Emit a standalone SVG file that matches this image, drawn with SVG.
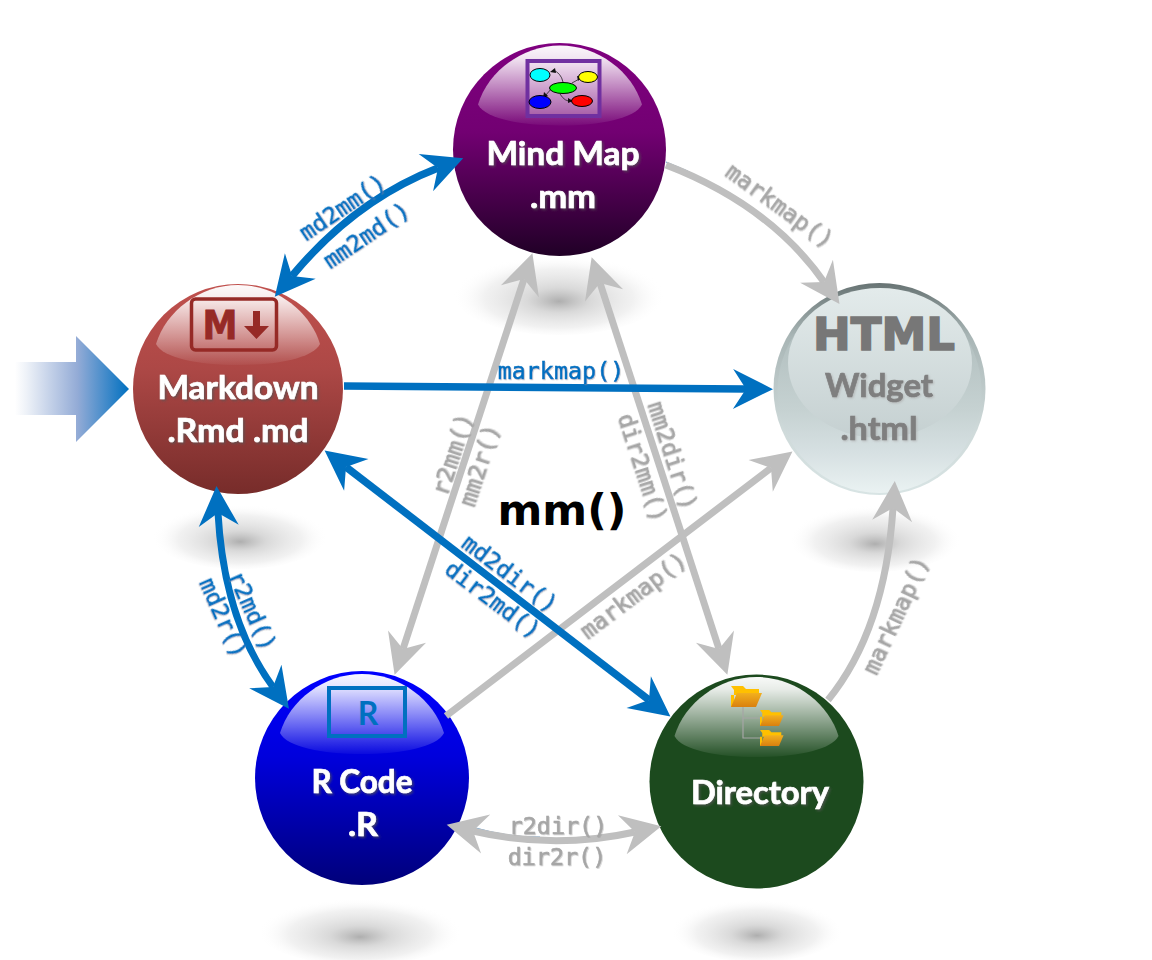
<svg xmlns="http://www.w3.org/2000/svg" width="1152" height="960" viewBox="0 0 1152 960">
<style>
.nt{font-family:"Lato","Liberation Sans",sans-serif;font-weight:700;font-size:33px;fill:#fff;stroke:#fff;stroke-width:.7;text-anchor:middle;filter:url(#ts)}
.wt{fill:#7F7F7F;stroke:#7F7F7F;filter:url(#ts2)}
.lb{font-family:"DejaVu Sans Mono","Liberation Mono",monospace;font-size:23.4px;text-anchor:middle;stroke-width:.55;filter:url(#ts3)}
.b{fill:#0070C0;stroke:#0070C0}.g{fill:#A6A6A6;stroke:#A6A6A6}
.cb{fill:none;stroke:#0070C0;stroke-width:7.5;marker-start:url(#ab);marker-end:url(#ab)}
.cg{fill:none;stroke:#BFBFBF;stroke-width:7;marker-start:url(#ag);marker-end:url(#ag)}
.one{marker-start:none}
.thin{fill:none;stroke:#5B9BD5;stroke-width:1}
.tree{fill:none;stroke:#A6A6A6;stroke-width:1.2}
</style>
<defs>
<marker id="ab" markerUnits="userSpaceOnUse" markerWidth="42" markerHeight="42" viewBox="0 0 42 42" refX="14" refY="21" orient="auto-start-reverse"><path d="M41,21 L1,1 L14,21 L1,41 Z" fill="#0070C0"/></marker>
<marker id="ag" markerUnits="userSpaceOnUse" markerWidth="42" markerHeight="42" viewBox="0 0 42 42" refX="14" refY="21" orient="auto-start-reverse"><path d="M41,21 L1,1 L14,21 L1,41 Z" fill="#BFBFBF"/></marker>
<filter id="ts" x="-20%" y="-30%" width="140%" height="170%"><feDropShadow dx="1.500" dy="1.500" stdDeviation="1.300" flood-color="#555" flood-opacity=".75"/></filter>
<filter id="ts2" x="-20%" y="-30%" width="140%" height="170%"><feDropShadow dx="1" dy="1" stdDeviation="1.200" flood-color="#aaa" flood-opacity=".7"/></filter>
<filter id="ts3" x="-20%" y="-40%" width="140%" height="180%"><feDropShadow dx=".8" dy="1" stdDeviation=".6" flood-color="#888" flood-opacity=".4"/></filter>
<radialGradient id="sh" cy=".55" fy=".6"><stop offset="0" stop-color="#a0a0a0" stop-opacity=".85"/><stop offset=".3" stop-color="#c0c0c0" stop-opacity=".6"/><stop offset=".7" stop-color="#dedede" stop-opacity=".42"/><stop offset="1" stop-color="#fff" stop-opacity="0"/></radialGradient>
<linearGradient id="gm" x1="0" y1="0" x2="0" y2="1"><stop offset="0" stop-color="#800080"/><stop offset=".42" stop-color="#720072"/><stop offset="1" stop-color="#200026"/></linearGradient>
<linearGradient id="gd" x1="0" y1="0" x2="0" y2="1"><stop offset="0" stop-color="#C0504D"/><stop offset=".4" stop-color="#AD4846"/><stop offset="1" stop-color="#772C2A"/></linearGradient>
<linearGradient id="gr" x1="0" y1="0" x2="0" y2="1"><stop offset="0" stop-color="#0000FF"/><stop offset=".4" stop-color="#0000DC"/><stop offset="1" stop-color="#00007A"/></linearGradient>
<linearGradient id="gw" x1="0" y1="0" x2="0" y2="1"><stop offset="0" stop-color="#687474"/><stop offset=".25" stop-color="#A8B5B5"/><stop offset=".7" stop-color="#CFDADA"/><stop offset="1" stop-color="#D8E4E4"/></linearGradient>
<linearGradient id="gw2" x1="0" y1="0" x2="0" y2="1"><stop offset="0" stop-color="#A5B3B3"/><stop offset=".6" stop-color="#C6D2D2"/><stop offset=".8" stop-color="#D6E0E2"/><stop offset="1" stop-color="#EAF2F2"/></linearGradient>
<linearGradient id="gw3" x1="0" y1="0" x2="0" y2="1"><stop offset="0" stop-color="#E3EBEB"/><stop offset="1" stop-color="#C5D0D1"/></linearGradient>
<linearGradient id="dm" x1="0" y1="0" x2="0" y2="1"><stop offset="0" stop-color="#fff" stop-opacity=".97"/><stop offset=".15" stop-color="#fff" stop-opacity=".9"/><stop offset="1" stop-color="#fff" stop-opacity=".04"/></linearGradient>
<linearGradient id="ar" x1="0" y1="0" x2="1" y2="0"><stop offset="0" stop-color="#fff"/><stop offset=".1" stop-color="#EEF2F8"/><stop offset=".55" stop-color="#93ABD6"/><stop offset="1" stop-color="#0070C0"/></linearGradient>
<linearGradient id="fo" x1="0" y1="0" x2="0" y2="1"><stop offset="0" stop-color="#F2B01E"/><stop offset="1" stop-color="#D9800F"/></linearGradient>
<path id="dome" d="M-82,-45 C-72,-78 -38,-104 0,-104 C38,-104 72,-78 82,-45 C75,-31 40,-24 0,-24 C-40,-24 -75,-31 -82,-45 Z" fill="url(#dm)"/>
<g id="folder"><path d="M0,0 H12 L15,3 H28 V9 H0 Z M0,0 V21 H3 V4 Z" fill="#FFC000"/><path d="M6,7 H31 L25,21 H0 Z" fill="url(#fo)"/></g>
</defs>

<g id="big-arrow"><path d="M15,362 H76 V336 L129,389 L76,442 V415 H15 Z" fill="url(#ar)"/></g>

<g id="node-mindmap">
<ellipse cx="559" cy="293" rx="106" ry="42" fill="url(#sh)"/>
<circle cx="559.500" cy="149.500" r="106.500" fill="url(#gm)"/>
<use href="#dome" x="560" y="149.500"/>
<rect x="527.500" y="61" width="72" height="55" fill="#fff" fill-opacity=".25" stroke="#7030A0" stroke-width="4"/>
<g stroke="#222" stroke-width=".8" fill="none"><path d="M553,70 Q561,73 563,82"/><path d="M572,83 L581,78"/><path d="M552,88 L545,96"/><path d="M560,94 Q565,102 571,101"/></g>
<path d="M550,72 L555,68 L556,73 Z M582,77 L577,76 L578,81 Z M543,98 L544,92 L548,96 Z M573,101 L568,98 L568,103 Z" fill="#111"/>
<g stroke="#000" stroke-width="1"><ellipse cx="540" cy="75" rx="10" ry="6.500" fill="#00FFFF"/><ellipse cx="588" cy="77" rx="9.500" ry="5.500" fill="#FFFF00"/><ellipse cx="563" cy="88" rx="13.500" ry="5.500" fill="#00FF00"/><ellipse cx="540" cy="102" rx="11" ry="6.500" fill="#0000FF"/><ellipse cx="582" cy="101" rx="10.500" ry="5.500" fill="#FF0000"/></g>
<text class="nt" x="563" y="165" textLength="153" lengthAdjust="spacingAndGlyphs">Mind Map</text>
<text class="nt" x="563" y="208" textLength="66" lengthAdjust="spacingAndGlyphs">.mm</text>
</g>

<g id="node-markdown">
<ellipse cx="240" cy="535" rx="88" ry="34" fill="url(#sh)"/>
<circle cx="238" cy="389" r="105" fill="url(#gd)"/>
<use href="#dome" x="238" y="389"/>
<rect x="191.500" y="299" width="85" height="51" rx="4" fill="none" stroke="#962A26" stroke-width="3.500"/>
<text x="220" y="339" font-family="'DejaVu Sans',sans-serif" font-weight="700" font-size="38.500" fill="#962A26" stroke="#962A26" stroke-width=".8" text-anchor="middle" textLength="35" lengthAdjust="spacingAndGlyphs">M</text>
<path d="M253,311 H260 V326 H269 L256.500,339 L244,326 H253 Z" fill="#962A26"/>
<text class="nt" x="238" y="399" textLength="161" lengthAdjust="spacingAndGlyphs">Markdown</text>
<text class="nt" x="238" y="442" textLength="141" lengthAdjust="spacingAndGlyphs">.Rmd .md</text>
</g>

<g id="node-widget">
<ellipse cx="875" cy="537" rx="86" ry="35" fill="url(#sh)"/>
<circle cx="879.500" cy="389" r="106" fill="url(#gw)"/>
<circle cx="879.500" cy="391" r="102" fill="url(#gw2)"/>
<ellipse cx="880" cy="363" rx="92" ry="75" fill="url(#gw3)"/>
<text x="884" y="350" font-family="'DejaVu Sans',sans-serif" font-weight="700" font-size="45px" fill="#777" stroke="#777" stroke-width="1.600" text-anchor="middle" textLength="142" lengthAdjust="spacingAndGlyphs">HTML</text>
<text class="nt wt" x="879" y="397" textLength="108" lengthAdjust="spacingAndGlyphs">Widget</text>
<text class="nt wt" x="879" y="440" textLength="77" lengthAdjust="spacingAndGlyphs">.html</text>
</g>

<g id="node-directory">
<ellipse cx="757" cy="929" rx="86" ry="33" fill="url(#sh)"/>
<circle cx="756.500" cy="781.500" r="107" fill="#1C4A1E"/>
<use href="#dome" x="756.500" y="781"/>
<path class="tree" d="M743,707 V738 H762 M743,718 H762"/>
<use href="#folder" x="731" y="686"/>
<use href="#folder" transform="translate(760,710) scale(.76)"/>
<use href="#folder" transform="translate(760,730) scale(.76)"/>
<text class="nt" x="760" y="804" textLength="138" lengthAdjust="spacingAndGlyphs">Directory</text>
</g>

<g id="node-rcode">
<ellipse cx="360" cy="930" rx="102" ry="35" fill="url(#sh)"/>
<circle cx="362" cy="778" r="107" fill="url(#gr)"/>
<use href="#dome" x="362" y="778"/>
<rect x="329" y="688" width="76" height="48" fill="none" stroke="#0070C0" stroke-width="4"/>
<text x="368" y="725" font-family="'Lato',sans-serif" font-weight="700" font-size="32px" fill="#0070C0" text-anchor="middle">R</text>
<text class="nt" x="362" y="793" textLength="101" lengthAdjust="spacingAndGlyphs">R Code</text>
<text class="nt" x="363" y="836" textLength="30" lengthAdjust="spacingAndGlyphs">.R</text>
</g>

<g id="connectors">
<path class="thin" d="M666,162 Q688,170 708,182"/>
<path class="thin" d="M472,827 Q510,838 540,837"/>
<path class="cg one" d="M666,165 Q770,205 824,282"/>
<path class="cg" d="M524,279 L403,649"/>
<path class="cg" d="M600,283 L719,649"/>
<path class="cg one" d="M446,716 L771,468"/>
<path class="cg one" d="M828,700 Q885,630 893,508"/>
<path class="cg" d="M473,831 Q554,850 635,832"/>
<path class="cb" d="M292,276 Q355,200 438,168"/>
<path class="cb one" d="M344,386 L746,389"/>
<path class="cb" d="M346,467 L649,700"/>
<path class="cb" style="stroke-width:7" d="M218,513 Q224,620 273,687"/>
</g>

<g id="labels">
<text class="lb b" transform="translate(347,214) rotate(-34)">md2mm()</text>
<text class="lb b" transform="translate(371,242) rotate(-34)">mm2md()</text>
<text class="lb g" transform="translate(775,212) rotate(36)">markmap()</text>
<text class="lb b" x="561" y="379">markmap()</text>
<text class="lb g" transform="translate(460,457) rotate(-72)">r2mm()</text>
<text class="lb g" transform="translate(487,468) rotate(-72)">mm2r()</text>
<text class="lb g" transform="translate(665,458) rotate(72)">mm2dir()</text>
<text class="lb g" transform="translate(635,470) rotate(72)">dir2mm()</text>
<text class="lb b" transform="translate(505,580) rotate(37)">md2dir()</text>
<text class="lb b" transform="translate(488,606) rotate(37)">dir2md()</text>
<text class="lb g" transform="translate(638,602) rotate(-37)">markmap()</text>
<text class="lb g" transform="translate(903,619) rotate(-65)">markmap()</text>
<text class="lb b" transform="translate(245,614) rotate(66)">r2md()</text>
<text class="lb b" transform="translate(216,621) rotate(66)">md2r()</text>
<text class="lb g" x="558" y="834">r2dir()</text>
<text class="lb g" x="557" y="865">dir2r()</text>
</g>

<text id="title" x="562" y="525" font-family="'DejaVu Sans',sans-serif" font-weight="700" font-size="43px" fill="#000" text-anchor="middle">mm()</text>
</svg>
